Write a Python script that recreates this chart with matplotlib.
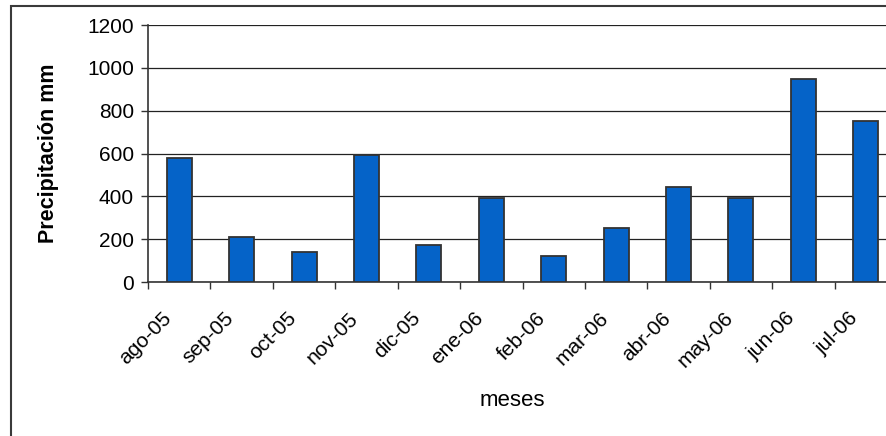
import matplotlib.pyplot as plt
import matplotlib.transforms as mtransforms
from matplotlib.patches import Rectangle
import numpy as np

plt.rcParams['font.family'] = ['Liberation Sans', 'DejaVu Sans']

# Precipitación mensual (mm)
meses = ["ago-05", "sep-05", "oct-05", "nov-05", "dic-05", "ene-06",
         "feb-06", "mar-06", "abr-06", "may-06", "jun-06", "jul-06"]
precipitacion = [578, 212, 138, 594, 175, 390, 120, 250, 445, 390, 946, 752]

W, H = 886, 436
fig = plt.figure(figsize=(W / 100, H / 100), dpi=100)

# marco exterior del gráfico
fig.patches.append(Rectangle((11 / W, -0.1), 1.2, 1 - 6 / H + 0.1,
                             transform=fig.transFigure, fill=False,
                             edgecolor="#3a3a3a", linewidth=1.5))

# el área de trazado sigue un poco más allá del borde derecho
ax = fig.add_axes([148 / W, 1 - 282 / H, (897 - 148) / W, (282 - 25) / H])

x = np.arange(len(meses))
ax.bar(x, precipitacion, width=0.40, color="#0563C8",
       edgecolor="#333333", linewidth=1.3, zorder=3)

ax.set_xlim(-0.5, len(meses) - 0.5)
ax.set_ylim(0, 1200)
ax.set_yticks(np.arange(0, 1201, 200))
ax.yaxis.grid(True, color="#222222", linewidth=0.9, zorder=0)
ax.set_axisbelow(True)

for s in ["top", "right"]:
    ax.spines[s].set_visible(False)
for s in ["left", "bottom"]:
    ax.spines[s].set_color("#333333")
    ax.spines[s].set_linewidth(1.2)

ax.tick_params(axis="y", length=5, width=1, color="#333333",
               labelsize=15, pad=5)

# marcas en los límites de cada categoría, etiquetas al centro
ax.set_xticks(x)
ax.set_xticks(np.arange(-0.5, len(meses)), minor=True)
ax.tick_params(axis="x", which="major", length=0, pad=24)
ax.tick_params(axis="x", which="minor", length=5, width=1, color="#333333")
ax.set_xticklabels(meses, rotation=45, ha="right", va="center",
                   rotation_mode="anchor", fontsize=15)
offset = mtransforms.ScaledTranslation(-11 / 100, 0, fig.dpi_scale_trans)
for lbl in ax.get_xticklabels():
    lbl.set_transform(lbl.get_transform() + offset)

ax.set_ylabel("Precipitación mm", fontsize=15.5, fontweight="bold", labelpad=20)
fig.text(512 / W, 1 - 400 / H, "meses", ha="center", va="center", fontsize=16)

fig.savefig("out.png", dpi=100)
